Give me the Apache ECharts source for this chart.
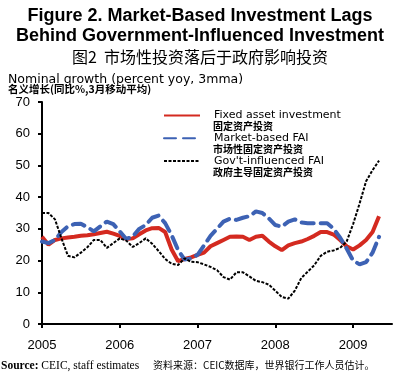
<!DOCTYPE html>
<html><head><meta charset="utf-8">
<script src="https://cdn.jsdelivr.net/npm/echarts@6/dist/echarts.min.js"></script>
<style>html,body{margin:0;padding:0;background:#fff}#c{width:400px;height:378px}</style>
</head><body><div id="c"></div>
<script>
// Monthly data, Jan 2005 .. May 2009 (3mma, % yoy)
const years = ['2005', '2006', '2007', '2008', '2009'];
const seriesNames = ['Fixed asset investment', 'Market-based FAI', "Gov't-influenced FAI"];
const seriesNamesCN = ['固定资产投资', '市场性固定资产投资', '政府主导固定资产投资'];
const fai = [27.5, 25, 26.5, 27, 27.3, 27.5, 27.8, 28, 28.3, 28.7, 29.1, 28.5,
  27.8, 26.8, 27, 28.3, 29.5, 30.2, 30.3, 29, 23.5, 19.8, 20.5, 21,
  21.8, 22.5, 24.5, 25.5, 26.5, 27.5, 27.6, 27.5, 26.5, 27.5, 27.8, 26,
  24.5, 23.3, 24.8, 25.5, 26, 26.8, 27.8, 29, 29, 28.2, 26.5, 24.5,
  23.5, 24.8, 26.5, 29, 34];
const marketFai = [26, 25.5, 26.5, 29, 30.8, 31.5, 31.6, 30.5, 29.2, 30.8, 32.3, 31.5,
  29.2, 26.8, 27.6, 30, 31.2, 33.5, 34.2, 31.8, 28, 23.3, 20.3, 20.7,
  21.8, 24.8, 27.8, 30, 32.3, 33.2, 32.8, 33.5, 34, 35.5, 35, 33.3,
  31.2, 30.7, 32.3, 33, 32, 31.8, 31.8, 31.8, 31.8, 30, 27.2, 23.8,
  20, 18.8, 19.5, 22.5, 27.5];
const govFai = [35, 35, 33, 27, 21.5, 21, 22.5, 24.2, 26.5, 26.5, 24, 25.5,
  27, 26.3, 24.3, 25.5, 27, 25.3, 23, 20.5, 19, 18.6, 20.7, 19.6,
  19.5, 18.8, 18, 17, 14.8, 14, 16.3, 16.3, 15, 13.6, 13.2, 12.4,
  10.5, 8.5, 8, 10.5, 14.5, 16.5, 18.5, 21.5, 22.8, 23.2, 24, 26,
  31.5, 38, 45, 48.5, 51.5];
const yTicks = [0, 10, 20, 30, 40, 50, 60, 70];

// month categories Jan 2005 .. Jul 2009
const months = [];
years.forEach(y => { for (let m = 1; m <= 12; m++) months.push(y + '-' + m); });
const categories = months.slice(0, 55);

const chart = echarts.init(document.getElementById('c'), null, {renderer: 'canvas'});
const sans = 'Liberation Sans, Arial, sans-serif';
const wide = 'DejaVu Sans, sans-serif';
const cjk = 'Noto Sans CJK SC, sans-serif';
const serif = 'Liberation Serif, Times New Roman, serif';
const colors = ['#d42a20', '#3d62b4', '#000000'];

chart.setOption({
  animation: false,
  backgroundColor: '#fff',
  graphic: [
    {type: 'text', left: 'center', top: 7, style: {text: 'Figure 2. Market-Based Investment Lags', font: 'bold 18px ' + sans, fill: '#000'}},
    {type: 'text', left: 'center', top: 27, style: {text: 'Behind Government-Influenced Investment', font: 'bold 18px ' + sans, fill: '#000'}},
    {type: 'text', left: 'center', top: 49, style: {text: '图2  市场性投资落后于政府影响投资', font: '16px ' + cjk, fill: '#000'}},
    {type: 'text', left: 8, top: 73, style: {text: 'Nominal growth (percent yoy, 3mma)', font: '12.5px ' + wide, fill: '#000'}},
    {type: 'text', left: 8, top: 84, style: {text: '名义增长(同比%,3月移动平均)', font: 'bold 10.5px ' + cjk, fill: '#000'}},
    {type: 'text', left: 213, top: 121, style: {text: seriesNamesCN[0], font: 'bold 10px ' + cjk, fill: '#000'}},
    {type: 'text', left: 213, top: 144, style: {text: seriesNamesCN[1], font: 'bold 10px ' + cjk, fill: '#000'}},
    {type: 'text', left: 213, top: 167, style: {text: seriesNamesCN[2], font: 'bold 10px ' + cjk, fill: '#000'}},
    {type: 'text', left: 1, top: 360, style: {
      text: '{b|Source:} CEIC, staff estimates',
      font: '11.5px ' + serif, fill: '#000',
      rich: {b: {fontWeight: 'bold', fontFamily: 'Liberation Serif', fontSize: 11.5}}}},
    {type: 'text', left: 153, top: 360, style: {
      text: '资料来源：CEIC数据库，世界银行工作人员估计。',
      font: '10px ' + cjk, fill: '#000'}}
  ],
  legend: {
    orient: 'vertical', left: 163, top: 110, padding: 0,
    itemWidth: 36, itemHeight: 14, itemGap: 11.5,
    itemStyle: {opacity: 0},
    textStyle: {fontFamily: wide, fontSize: 11, color: '#000', padding: [0, 0, 0, 9]},
    data: seriesNames
  },
  grid: {left: 42, right: 8, top: 102, bottom: 54, containLabel: false},
  xAxis: {
    type: 'category', data: categories, boundaryGap: false,
    axisLine: {lineStyle: {color: '#000', width: 2}},
    axisTick: {length: 4, lineStyle: {color: '#000', width: 2}, interval: (i) => i % 12 === 0},
    axisLabel: {interval: (i) => i % 12 === 0, formatter: (v) => v.split('-')[0],
      fontFamily: sans, fontSize: 13, color: '#000', margin: 15},
    splitLine: {show: false}
  },
  yAxis: {
    type: 'value', min: yTicks[0], max: yTicks[yTicks.length - 1], interval: 10,
    axisLine: {show: true, lineStyle: {color: '#000', width: 2}},
    axisTick: {show: true, length: 4, lineStyle: {color: '#000', width: 2}},
    axisLabel: {fontFamily: sans, fontSize: 13, color: '#000', margin: 12},
    splitLine: {show: false}
  },
  series: [
    {name: seriesNames[0], type: 'line', data: fai, symbol: 'none', smooth: false,
      lineStyle: {color: colors[0], width: 4}, itemStyle: {color: colors[0]}, z: 3},
    {name: seriesNames[1], type: 'line', data: marketFai, symbol: 'none',
      lineStyle: {color: colors[1], width: 4, type: [12, 7], cap: 'round'}, itemStyle: {color: colors[1]}, z: 4},
    {name: seriesNames[2], type: 'line', data: govFai, symbol: 'none',
      lineStyle: {color: colors[2], width: 2, type: [3, 1.5]}, itemStyle: {color: colors[2]}, z: 5}
  ]
});
</script></body></html>
